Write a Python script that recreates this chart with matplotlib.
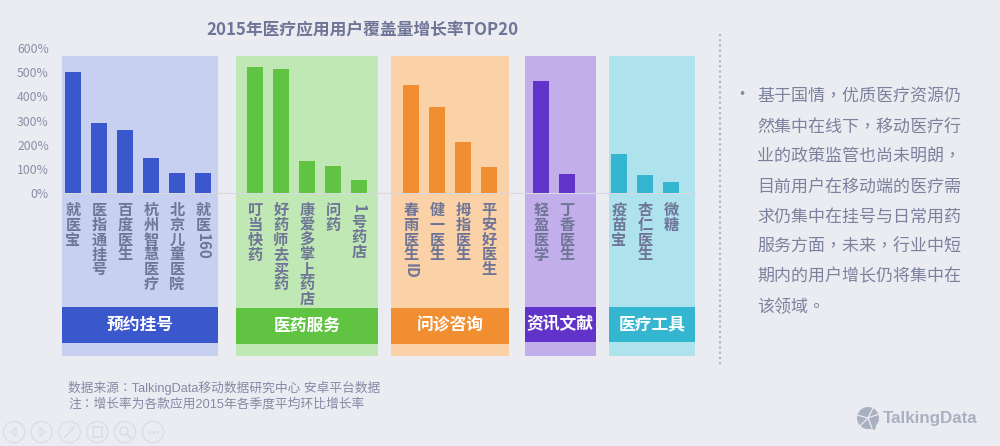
import matplotlib
matplotlib.use('Agg')
import matplotlib.pyplot as plt
from matplotlib.patches import Rectangle, Circle, Polygon
from matplotlib.transforms import blended_transform_factory

plt.rcParams['font.family'] = ['Noto Sans CJK SC', 'DejaVu Sans']

title = '2015年医疗应用用户覆盖量增长率TOP20'
groups = ['预约挂号', '医药服务', '问诊咨询', '资讯文献', '医疗工具']
group_apps = [
    ['就医宝', '医指通挂号', '百度医生', '杭州智慧医疗', '北京儿童医院', '就医160'],
    ['叮当快药', '好药师去买药', '康爱多掌上药店', '问药', '1号药店'],
    ['春雨医生ID', '健一医生', '拇指医生', '平安好医生'],
    ['轻盈医学', '丁香医生'],
    ['疫苗宝', '杏仁医生', '微糖'],
]
group_values = [
    [500, 288, 262, 142, 82, 82],
    [521, 515, 133, 110, 51],
    [447, 356, 211, 105],
    [465, 79],
    [161, 75, 42],
]
group_colors = ['#3b57cc', '#60c341', '#f28e32', '#6233c9', '#35b6d0']
panel_colors = ['#c7d0f0', '#c0e8b4', '#fbd1a8', '#c1aeea', '#aee3ee']
panel_edges = [(62, 218), (236, 378), (391, 509), (524.5, 596), (609, 695)]
header_tops = [307, 308, 308, 306.5, 306.5]
yticks = [0, 100, 200, 300, 400, 500, 600]
note_lines = ['数据来源：TalkingData移动数据研究中心 安卓平台数据',
              '注：增长率为各款应用2015年各季度平均环比增长率']
side_lines = ['基于国情，优质医疗资源仍', '然集中在线下，移动医疗行', '业的政策监管也尚未明朗，',
              '目前用户在移动端的医疗需', '求仍集中在挂号与日常用药', '服务方面，未来，行业中短',
              '期内的用户增长仍将集中在', '该领域。']
side_y = [96, 127, 157, 187, 217, 246, 276, 307]

W, H = 1000, 446
px = 0.72
text_c = '#6f7596'
soft_c = '#8489a6'
btn_c = '#dcdde3'
mixed = ['Liberation Sans', 'Noto Sans CJK TC']
fig = plt.figure(figsize=(10, 4.46), dpi=100, facecolor='#ebecf1')

# background layer in pixel coordinates
bg = fig.add_axes([0, 0, 1, 1], zorder=0)
bg.set_xlim(0, W)
bg.set_ylim(H, 0)
bg.axis('off')
for (x0, x1), top, pc, c, g in zip(panel_edges, header_tops, panel_colors, group_colors, groups):
    bg.add_patch(Rectangle((x0, 56), x1 - x0, 300, fc=pc, ec='none'))
    bg.add_patch(Rectangle((x0, top), x1 - x0, 35.5, fc=c, ec='none'))
    bg.text((x0 + x1) / 2, top + 17.5, g, color='white', fontsize=16.8 * px, fontweight='bold',
            ha='center', va='center')

bg.text(362.5, 30, title, color=text_c, fontsize=16.8 * px, fontweight='bold', ha='center', va='center')
bg.text(68, 388, note_lines[0], color=soft_c, fontsize=12.7 * px, family=mixed, ha='left', va='center')
bg.text(68, 404, note_lines[1], color=soft_c, fontsize=12.7 * px, family=mixed, ha='left', va='center')

bg.plot([720, 720], [34, 365], color='#b0b3bf', lw=1.5, ls=(0, (1, 1.5)))

bg.text(741.7, 95, '•', color=soft_c, fontsize=17 * px, ha='center', va='center')
for line, y in zip(side_lines, side_y):
    bg.text(757, y, line, color='#7c819e', fontsize=17 * px, family='Noto Sans CJK TC', ha='left', va='center')

# logo
bg.add_patch(Circle((868, 418), 11, fc='#a9b0c1', ec='none'))
bg.add_patch(Polygon([[868, 428], [876, 426], [875, 430]], fc='#a9b0c1', ec='none'))
for dx, dy in [(-11, -3), (11, -4), (-8, 8), (4, 10), (5, -10)]:
    bg.plot([868, 868 + dx], [418, 418 + dy], color='#ebecf1', lw=0.9)
bg.text(883, 418, 'TalkingData', color='#a9b0c1', fontsize=16.9 * px, fontweight='bold',
        family='Liberation Sans', ha='left', va='center')

# player buttons
for cx in [14, 41.7, 69.7, 97.3, 125, 153]:
    bg.add_patch(Circle((cx, 432), 10.6, fc='none', ec=btn_c, lw=0.9))
bg.plot([16, 11, 16, 16], [428, 432, 436, 428], color=btn_c, lw=0.9)
bg.plot([40, 45, 40, 40], [428, 432, 436, 428], color=btn_c, lw=0.9)
bg.plot([65, 74], [437, 427], color=btn_c, lw=1.2)
bg.add_patch(Rectangle((93, 427), 9, 10, fc='none', ec=btn_c, lw=1.1))
bg.add_patch(Circle((124, 431), 4, fc='none', ec=btn_c, lw=1.1))
bg.plot([127, 131], [434, 438], color=btn_c, lw=1.4)
bg.plot([148, 158], [432, 432], color=btn_c, lw=1.8, ls=(0, (1, 0.6)))

# chart layer: one slot per 26 px, the slots between groups stay empty
ax = fig.add_axes([62 / W, 1 - 192.5 / H, 633 / W, 144 / H], zorder=1)
ax.patch.set_alpha(0)
ax.set_xlim(-11 / 26, 622 / 26)
ax.set_ylim(0, 600)
label_tf = blended_transform_factory(ax.transData, bg.transData)
label_kw = dict(color=text_c, fontsize=15.2 * px, fontweight='bold', transform=label_tf, clip_on=False)

slot = 0
for apps, values, c in zip(group_apps, group_values, group_colors):
    for app, v in zip(apps, values):
        ax.bar(slot, v, width=0.59, color=c, zorder=3)
        # labels are stacked: CJK upright, latin and digits turned sideways
        y = 202.7
        run = ''
        for ch in app + ' ':
            if ch.isascii() and ch != ' ':
                run += ch
                continue
            if run:
                ax.text(slot, y + 1, run, rotation=-90, ha='center', va='top', **label_kw)
                y += 9.3 * len(run) + 2.5
                run = ''
            if ch != ' ':
                ax.text(slot, y + 7.4, ch, ha='center', va='center', **label_kw)
                y += 14.8
        slot += 1
    slot += 1

ax.set_yticks(yticks)
ax.set_yticklabels([f'{v}%' for v in yticks], color='#8a8fa8', fontsize=12.2 * px)
ax.set_xticks([])
for s in ['top', 'right', 'left']:
    ax.spines[s].set_visible(False)
ax.spines['bottom'].set_color('#d8d9e0')
ax.spines['bottom'].set_linewidth(0.8)
ax.tick_params(axis='y', length=0, pad=9.5)

fig.savefig('out.png', dpi=100, facecolor=fig.get_facecolor())
